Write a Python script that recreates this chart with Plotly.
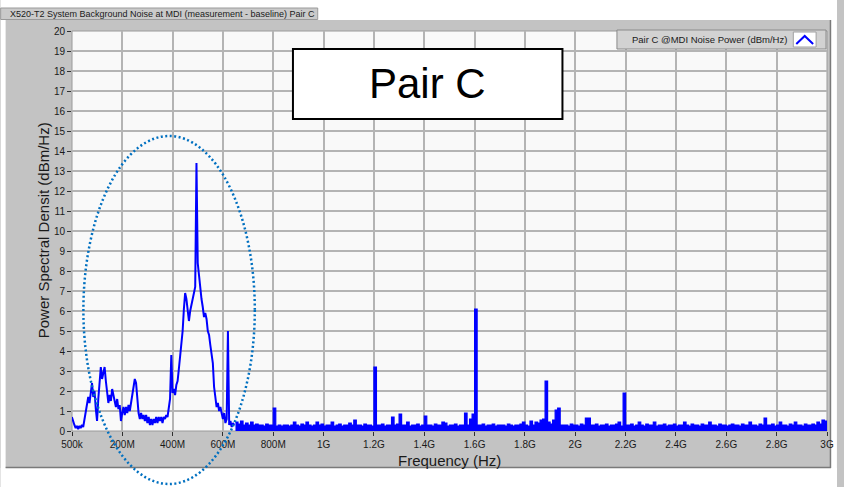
import numpy as np
import plotly.graph_objects as go

# ---------------- data ----------------
# Low-frequency region, 0 .. 645 MHz, 5 MHz spacing (dBm/Hz)
low_freq_mhz = np.arange(0, 650, 5)
low_psd = [
    0.7, 0.45, 0.3, 0.15, 0.25, 0.1, 0.25, 0.15, 0.3, 0.2,
    0.55, 0.9, 1.4, 1.7, 1.4, 2.0, 2.4, 1.7, 2.0, 1.1,
    0.5, 1.6, 2.6, 3.2, 2.6, 3.0, 3.2, 2.5, 2.0, 1.4,
    1.8, 1.5, 2.1, 1.8, 1.5, 1.2, 1.6, 1.1, 1.3, 0.5,
    0.9, 1.2, 0.8, 1.2, 0.9, 1.3, 1.0, 1.4, 1.6, 2.1,
    2.6, 2.4, 1.5, 0.9, 0.6, 0.9, 0.6, 0.8, 0.5, 0.8,
    0.4, 0.7, 0.3, 0.6, 0.3, 0.6, 0.4, 0.7, 0.4, 0.7,
    0.5, 0.7, 0.4, 0.7, 0.6, 0.8, 0.7, 1.2, 1.6, 3.8,
    1.9, 2.1, 1.8, 2.3, 2.5, 3.1, 3.7, 4.2, 5.0, 6.1,
    6.9, 6.6, 5.9, 5.5, 6.0, 6.3, 6.7, 6.9, 7.2, 13.4,
    8.4, 7.8, 7.0, 6.6, 6.2, 5.7, 5.9, 5.6, 5.0, 4.8,
    4.3, 3.9, 3.4, 2.2, 1.5, 1.2, 1.4, 1.0, 1.2, 0.8,
    0.6, 0.9, 0.4, 0.6, 5.0, 0.3, 0.5, 0.2, 0.4, 0.3,
]

# Noise floor region, 650 .. 3000 MHz, 10 MHz spacing (dBm/Hz)
floor_freq_mhz = np.arange(650, 3001, 10)
floor_psd = [
    0.45, 0.35, 0.5, 0.3, 0.4, 0.3, 0.45, 0.3, 0.35, 0.3,
    0.3, 0.25, 0.35, 0.3, 0.3, 1.15, 0.25, 0.3, 0.25, 0.3,
    0.3, 0.25, 0.3, 0.45, 0.3, 0.25, 0.35, 0.3, 0.45, 0.3,
    0.25, 0.3, 0.45, 0.3, 0.35, 0.25, 0.3, 0.3, 0.45, 0.25,
    0.3, 0.35, 0.25, 0.3, 0.3, 0.4, 0.3, 0.55, 0.3, 0.3,
    0.25, 0.35, 0.3, 0.3, 0.25, 3.2, 0.3, 0.3, 0.35, 0.25,
    0.3, 0.3, 0.7, 0.3, 0.35, 0.85, 0.3, 0.3, 0.45, 0.25,
    0.3, 0.3, 0.35, 0.25, 0.3, 0.75, 0.3, 0.3, 0.25, 0.35,
    0.3, 0.3, 0.45, 0.4, 0.25, 0.3, 0.3, 0.35, 0.25, 0.3,
    0.3, 0.9, 0.3, 0.6, 0.85, 6.1, 0.3, 0.3, 0.35, 0.25,
    0.3, 0.3, 0.35, 0.25, 0.3, 0.3, 0.3, 0.25, 0.35, 0.3,
    0.25, 0.3, 0.3, 0.35, 0.45, 0.3, 0.25, 0.5, 0.3, 0.45,
    0.4, 0.55, 0.6, 2.5, 0.45, 0.35, 0.55, 1.05, 1.15, 0.3,
    0.3, 0.3, 0.25, 0.35, 0.3, 0.3, 0.25, 0.35, 0.3, 0.65,
    0.65, 0.3, 0.3, 0.35, 0.25, 0.3, 0.3, 0.35, 0.25, 0.3,
    0.3, 0.35, 0.45, 0.25, 1.9, 0.3, 0.3, 0.35, 0.25, 0.3,
    0.45, 0.3, 0.25, 0.35, 0.3, 0.3, 0.45, 0.25, 0.3, 0.3,
    0.35, 0.25, 0.3, 0.3, 0.35, 0.25, 0.3, 0.3, 0.45, 0.3,
    0.25, 0.35, 0.3, 0.3, 0.25, 0.35, 0.3, 0.3, 0.45, 0.3,
    0.3, 0.25, 0.35, 0.3, 0.3, 0.25, 0.3, 0.35, 0.3, 0.3,
    0.25, 0.35, 0.3, 0.3, 0.45, 0.3, 0.3, 0.25, 0.35, 0.3,
    0.65, 0.3, 0.3, 0.35, 0.25, 0.3, 0.45, 0.3, 0.3, 0.25,
    0.35, 0.3, 0.45, 0.3, 0.3, 0.25, 0.35, 0.3, 0.3, 0.35,
    0.3, 0.45, 0.35, 0.55, 0.5, 0.45,
]

x_tick_vals = [0.5, 200, 400, 600, 800, 1000, 1200, 1400, 1600, 1800,
               2000, 2200, 2400, 2600, 2800, 3000]
x_tick_text = ["500k", "200M", "400M", "600M", "800M", "1G", "1.2G", "1.4G",
               "1.6G", "1.8G", "2G", "2.2G", "2.4G", "2.6G", "2.8G", "3G"]
y_tick_vals = list(range(0, 21))

title_text = "X520-T2 System Background Noise at MDI (measurement - baseline) Pair C"
legend_text = "Pair C @MDI Noise Power (dBm/Hz)"
x_title = "Frequency (Hz)"
y_title = "Power Spectral Densit (dBm/Hz)"
box_text = "Pair C"

# ---------------- layout helpers ----------------
W, H = 844, 487
L, R, T, B = 72, 10, 31, 56
PW, PH = W - L - R, H - T - B


def px(x):
    return (x - L) / PW


def py(y):
    return (H - B - y) / PH


FONT = "Liberation Sans, Arial, sans-serif"
BLUE = "#0000ff"
PANEL = "#c3c3c3"

fig = go.Figure()
fig.add_trace(go.Scatter(
    x=low_freq_mhz, y=low_psd, mode="lines",
    line=dict(color=BLUE, width=2), showlegend=False, hoverinfo="skip"))
fig.add_trace(go.Scatter(
    x=floor_freq_mhz, y=floor_psd, mode="lines",
    line=dict(color=BLUE, width=1.2, shape="hv"),
    fill="tozeroy", fillcolor=BLUE, showlegend=False, hoverinfo="skip"))


def rect(x0, x1, y0, y1, fill, line_color=None, lw=0, layer="below"):
    return dict(type="rect", xref="paper", yref="paper", layer=layer,
                x0=px(x0), x1=px(x1), y0=py(y1), y1=py(y0),
                fillcolor=fill,
                line=dict(color=line_color or fill, width=lw))


shapes = [
    # white page outside the grey panel
    rect(0, W, 0, 20, "#ffffff"),
    rect(0, W, 468, H, "#ffffff"),
    rect(0, 5, 0, H, "#ffffff"),
    rect(838, W, 0, H, "#ffffff"),
    # light plot area
    rect(72, 834, 31, 431, "#f9f9f9", "#9a9a9a", 1),
    # title strip
    rect(0, 320, 8, 19.5, "#cacaca", "#9a9a9a", 1),
    # panel edge shading
    dict(type="line", xref="paper", yref="paper", layer="below",
         x0=px(5), x1=px(838), y0=py(467.5), y1=py(467.5),
         line=dict(color="#7a7a7a", width=1.5)),
    dict(type="line", xref="paper", yref="paper", layer="below",
         x0=px(837.5), x1=px(837.5), y0=py(20), y1=py(468),
         line=dict(color="#7a7a7a", width=1.5)),
    # legend
    rect(622, 833, 30, 49, "#d2d2d2", "#8a8a8a", 1, "above"),
    rect(800, 823, 32, 47, "#ffffff", "#a0a0a0", 1, "above"),
    dict(type="path", xref="paper", yref="paper", layer="above",
         path=f"M {px(803)},{py(44)} L {px(811.5)},{py(36)} L {px(820)},{py(44)}",
         line=dict(color=BLUE, width=2)),
    # "Pair C" callout box
    rect(295, 567, 49, 119, "#ffffff", "#000000", 2, "above"),
    # dotted ellipse
    dict(type="circle", xref="paper", yref="paper", layer="above",
         x0=px(83.5), x1=px(256.5), y0=py(484), y1=py(136),
         fillcolor="rgba(0,0,0,0)",
         line=dict(color="#0070c0", width=2.5, dash="2px,2.5px")),
]

annotations = [
    dict(text=title_text, xref="paper", yref="paper", x=px(7), y=py(13.5),
         xanchor="left", yanchor="middle", showarrow=False,
         font=dict(family=FONT, size=9, color="#1a1a1a")),
    dict(text=legend_text, xref="paper", yref="paper", x=px(635), y=py(39.5),
         xanchor="left", yanchor="middle", showarrow=False,
         font=dict(family=FONT, size=9.5, color="#1a1a1a")),
    dict(text=box_text, xref="paper", yref="paper", x=px(431), y=py(84),
         xanchor="center", yanchor="middle", showarrow=False,
         font=dict(family=FONT, size=42, color="#000000")),
    dict(text=x_title, xref="paper", yref="paper", x=px(453), y=py(460),
         xanchor="center", yanchor="middle", showarrow=False,
         font=dict(family=FONT, size=15, color="#1a1a1a")),
    dict(text=y_title, xref="paper", yref="paper", x=px(43), y=py(230),
         xanchor="center", yanchor="middle", showarrow=False, textangle=-90,
         font=dict(family=FONT, size=15, color="#1a1a1a")),
]

fig.update_layout(
    width=W, height=H,
    margin=dict(l=L, r=R, t=T, b=B, pad=0),
    paper_bgcolor=PANEL,
    plot_bgcolor="#f9f9f9",
    showlegend=False,
    shapes=shapes,
    annotations=annotations,
    xaxis=dict(range=[0.5, 3000], tickmode="array", tickvals=x_tick_vals,
               ticktext=x_tick_text, showgrid=True, gridcolor="#b4b4b4",
               gridwidth=1.5, zeroline=False, ticks="outside", ticklen=4,
               tickcolor="#303030", tickfont=dict(family=FONT, size=10, color="#1a1a1a"),
               showline=False, fixedrange=True),
    yaxis=dict(range=[0, 20], tickmode="array", tickvals=y_tick_vals,
               showgrid=True, gridcolor="#b4b4b4", gridwidth=1.5,
               zeroline=False, ticks="outside", ticklen=4, tickcolor="#303030",
               tickfont=dict(family=FONT, size=10, color="#1a1a1a"),
               showline=False, fixedrange=True),
)

fig.write_html("out.html")
